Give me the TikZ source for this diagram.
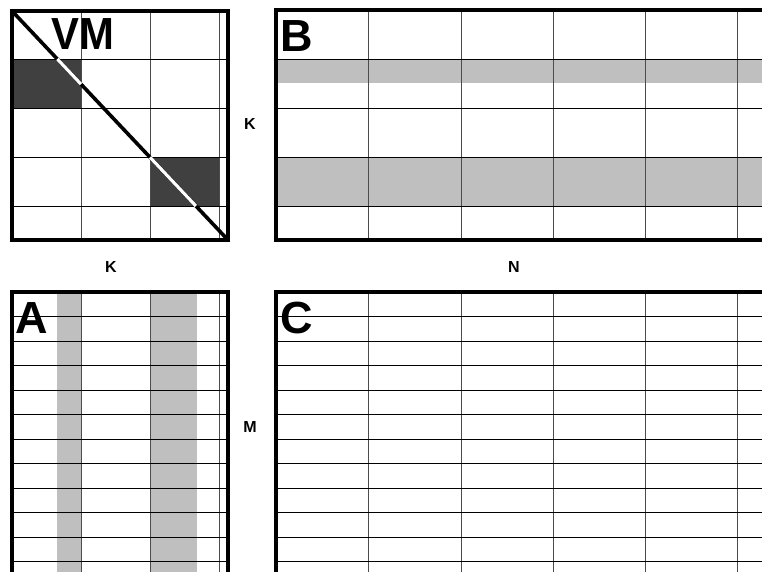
\documentclass[tikz,border=0pt]{standalone}
\usepackage{fontspec}
\setmainfont{Liberation Sans}
\begin{document}
\begin{tikzpicture}[x=1pt,y=-1pt,
  frame/.style={line width=4pt,line cap=rect},
  gridline/.style={line width=0.8pt,black},
  vgridline/.style={line width=0.8pt,black!70},
  darkcell/.style={fill=black!75},
  band/.style={fill=black!25},
  diag/.style={line width=3.6pt},
  diagwhite/.style={line width=3.2pt,white},
  biglabel/.style={font=\fontsize{45}{45}\selectfont\bfseries,inner sep=0pt,anchor=base west},
  axislabel/.style={font=\fontsize{16}{16}\selectfont\bfseries,inner sep=0pt}]
\useasboundingbox (0,0) rectangle (762,572);
\clip (0,0) rectangle (762,572);
% fills
\fill[darkcell] (12,59) rectangle (81,108);
\fill[darkcell] (150,157) rectangle (219,206);
\fill[band] (276,59) rectangle (770,83.5);
\fill[band] (276,157) rectangle (770,206);
\fill[band] (57,292) rectangle (81,580);
\fill[band] (150,292) rectangle (197,580);
% VM grid
\foreach \x in {81,150,219} \draw[vgridline] (\x,11) -- (\x,240);
\foreach \y in {59,108,157,206} \draw[gridline] (12,\y) -- (228,\y);
% B grid
\foreach \x in {368,461,553,645,737} \draw[vgridline] (\x,10.5) -- (\x,240);
\foreach \y in {59,108,157,206} \draw[gridline] (276,\y) -- (770,\y);
% A grid
\foreach \x in {81,150,219} \draw[vgridline] (\x,292) -- (\x,580);
\foreach \k in {1,...,11} \draw[gridline] (12,292+24.5*\k) -- (228,292+24.5*\k);
% C grid
\foreach \x in {368,461,553,645,737} \draw[vgridline] (\x,292) -- (\x,580);
\foreach \k in {1,...,11} \draw[gridline] (276,292+24.5*\k) -- (770,292+24.5*\k);
% frames
\draw[frame] (12,11) rectangle (228,240);
\draw[frame] (770,10.5) -- (276,10.5) -- (276,240) -- (770,240);
\draw[frame] (12,580) -- (12,292) -- (228,292) -- (228,580);
\draw[frame] (770,292) -- (276,292) -- (276,580);
% labels
\node[biglabel,xscale=0.93] (vm) at (51,50) {VM};
\node[biglabel] (b) at (280,52) {B};
\node[biglabel] (a) at (15,333) {A};
\node[biglabel] (c) at (280,333) {C};
\node[axislabel] (k1) at (250,124) {K};
\node[axislabel] (k2) at (111,267) {K};
\node[axislabel] (n) at (514,267) {N};
\node[axislabel] (m) at (250,427) {M};
% diagonal
\coordinate (d1) at (12,11);
\coordinate (d2) at (228,240);
\coordinate (w1a) at (57.3,59);
\coordinate (w1b) at (81,84.2);
\coordinate (w2a) at (150,157.3);
\coordinate (w2b) at (195.9,206);
\draw[diag] (d1) -- (d2);
\draw[diagwhite] (w1a) -- (w1b);
\draw[diagwhite] (w2a) -- (w2b);
\end{tikzpicture}
\end{document}
